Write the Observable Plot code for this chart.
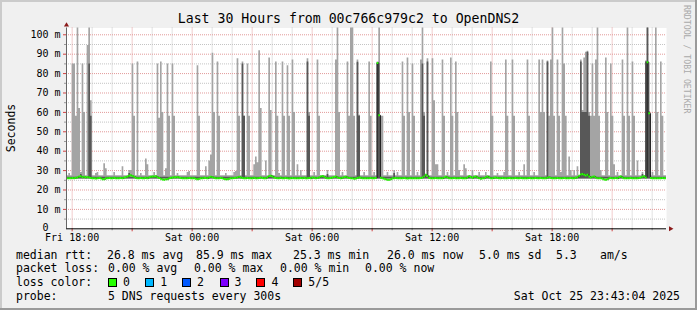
<!DOCTYPE html>
<html><head><meta charset="utf-8">
<script src="https://cdn.jsdelivr.net/npm/d3@7"></script>
<script src="https://cdn.jsdelivr.net/npm/@observablehq/plot@0.6"></script>
<style>
html,body{margin:0;padding:0;background:#f0f0f0;}
#wrap{position:relative;width:697px;height:310px;overflow:hidden;background:#f0f0f0;
  box-shadow: inset -2px -2px 0 #9a9a9a, inset 2px 2px 0 #cbcbcb;
  font-family:"DejaVu Sans Mono",monospace;color:#000;}
#wrap svg{position:absolute;left:0;top:0;}
.t{position:absolute;white-space:pre;line-height:14px;font-size:11.5px;}
.box{position:absolute;width:7px;height:7px;border:1px solid #000;}
</style></head>
<body><div id="wrap"></div>
<script>
// ---------------- data ----------------
const title = "Last 30 Hours from 00c766c979c2 to OpenDNS2";
const yUnit = "Seconds";
const watermark = "RRDTOOL / TOBI OETIKER";

// median RTT (ms), one value per 5-minute step starting Fri 17:45
const medianRtt = `
26.1 26.0 26.1 26.2 26.0 26.3 26.5 26.9 27.1 26.6 26.8 26.4 26.7 26.5 26.2 26.0 26.1 25.9 26.1 26.2 26.0 25.6 25.5 26.0 26.1 26.2 26.0 26.1 26.3 26.0
26.0 26.1 26.2 26.1 26.4 26.6 27.0 27.4 27.6 27.2 26.8 26.3 26.1 26.0 26.2 26.1 26.0 26.3 26.1 26.5 26.8 27.0 26.9 27.1 26.6 26.2 25.8 25.4 25.3 25.5
25.6 26.0 26.2 26.4 26.6 26.5 26.7 26.4 26.2 26.1 26.0 26.1 26.0 26.2 26.1 26.0 26.1 25.8 25.6 25.8 26.0 26.1 26.3 26.2 26.0 26.4 26.8 26.6 26.3 26.1
26.0 26.1 26.2 26.0 25.7 25.5 25.6 25.8 26.0 26.1 26.2 26.3 26.5 26.8 26.4 26.2 26.1 26.0 26.2 26.1 26.0 26.1 26.3 26.0 26.1 26.2 26.4 26.2 26.0 26.1
26.6 27.2 27.4 27.0 26.5 26.2 26.0 26.1 26.3 26.1 26.0 26.2 26.1 25.9 26.0 26.2 26.1 26.0 26.1 26.0 26.2 26.1 26.3 26.0 26.1 26.2 26.0 26.4 26.3 26.1
26.2 26.5 27.0 27.2 26.8 26.3 26.1 26.0 26.2 26.4 26.7 26.9 26.5 26.2 26.0 26.3 26.6 26.8 26.5 26.2 26.0 26.1 25.8 25.9 26.2 26.5 26.3 26.0 26.1 26.0
26.0 26.1 26.2 26.0 26.1 26.2 85.5 58.5 26.3 26.0 25.8 25.5 25.3 25.3 25.6 26.0 26.1 26.2 26.0 26.1 26.0 26.1 26.2 26.0 25.9 26.0 26.1 26.0 26.1 26.0
26.0 26.1 26.2 26.4 27.0 27.8 27.2 26.2 26.0 26.1 26.0 26.2 26.1 26.0 26.1 26.0 26.4 26.8 26.5 26.1 26.0 26.1 26.2 26.0 26.1 26.0 26.2 26.1 26.0 26.1
26.5 27.1 26.7 26.2 26.8 27.0 26.4 26.0 25.8 26.0 26.1 26.6 27.0 26.5 26.1 26.0 26.3 26.4 26.2 26.1 26.0 26.2 26.1 26.0 26.1 26.2 26.0 26.1 26.0 26.2
26.1 26.0 26.2 26.0 26.1 26.0 26.1 26.2 26.0 26.1 26.0 26.2 26.1 26.0 26.2 26.1 26.0 26.1 26.3 26.6 26.2 26.0 26.1 26.0 26.2 26.1 26.0 26.1 26.2 26.0
26.1 26.0 26.2 26.0 26.1 26.3 26.6 27.3 28.0 28.3 27.8 27.5 27.9 27.0 26.5 26.8 27.0 26.4 26.1 26.0 26.1 25.8 25.4 25.3 25.6 26.0 26.2 26.1 26.0 26.2
26.0 26.6 27.0 26.5 26.1 26.0 26.1 26.0 26.2 26.1 26.0 26.1 26.0 26.2 26.5 26.8 27.1 26.5 85.9 59.5 26.2 26.0 26.1 26.0 26.1 26.0 26.1 26.2 26.0 26.0
`.trim().split(/\s+/).map(Number);

// typical smoke extent around the median (ms)
const typicalLow = 25.4;       // lowest ping
const typicalInnerLow = 25.8;  // 2nd ping
const typicalInnerHigh = 26.6; // 4th ping
const typicalHigh = 27.4;      // highest ping

// [step, highest ping, 4th ping (optional)]
const spikes = [
[3,85],[4,85],[5,58],[6,104],[7,62],[9,85],[10,60],[12,94.5],[13,104,85],[14,66,58],
[39,85],[40,58],[42,86],[54,85],[55,57],[56,86],[57,60],[60,85],[61,58],[63,85],[64,58],
[78,84],[79,58],[87,90.5],[88,60],[90,86],[91,58],[102,87.6],[103,58],[105,86,85],[106,58,58],[108,85],[109,58],
[115,91.8],[116,62],[121,88],[122,61],[125,86],[126,58],[129,86],[130,58],[132,84],[133,58],[135,87],[136,60],
[144,87.6,86],[145,60,58],[150,87],[151,58],[161,87],[162,104],[163,60],[168,86],[169,58],[170,104],[171,104],[172,58],
[174,87,85.8],[175,58.5,58],[181,86],[182,58],[186,86,85.5],[187,104,58.5],[188,58],[189,58],
[201,86],[202,58],[204,88],[205,60],[207,85],[208,58],[212,87],[213,104,85],[214,60,58],[216,87.6,86],
[219,87.6],[220,66],[225,87],[226,58],[230,88],[231,58],[233,86],[234,60],
[254,86],[255,58],[263,87],[264,58],[267,87],[268,58],[276,87],[277,58],[283,87],[284,60],[285,87],[286,60],
[288,86.5,86],[289,58],[290,87],[291,104],[292,58],[294,87],[295,58],[297,104],[298,85],[299,58],
[308,87,86],[309,61,60],[310,88,60],[311,91,60],[312,91.5,91],[313,60,58],[314,58],[315,85],[316,58],[317,87],[318,104],[319,58],
[323,88],[324,60],[326,85],[327,58],[333,87],[334,58],[336,104],[337,58],[339,86],[340,58],
[347,86.5,86],[348,104,104],[349,60.5,60],[353,104],[354,60],[356,86],[357,58]
];
// small smoke bumps near the baseline: [step, highest ping, 4th ping (optional)]
const bumps = [
[1,28.5],[8,29,28],[17,28.5],[18,29],[22,33.5],[23,31],[28,29],[33,32],[37,30,28.5],[38,30],[44,28.5],[47,36],[48,33],
[52,29],[59,31],[66,28.5],[72,29],[73,29.5],[83,32],[85,35],[86,38],[95,28.5],[100,29],[101,29.5],
[112,33],[113,37],[114,34],[119,35],[127,28.5],[138,33],[140,30],[148,29],[156,30,28],[165,29],[178,29],
[184,29],[192,29],[196,30,28.5],[198,29],[210,29],[221,33],[222,33],[228,29],[235,30],[238,33],[239,31],
[243,30],[247,29],[251,29],[258,28.5],[262,29],[271,29],[274,33],[280,29],[296,29],[301,37],[302,30],
[304,30],[306,32],[320,30],[328,33],[330,29],[342,35],[345,29,28],[351,29]
];

// legend
const rttLabel = "median rtt:";
const rttStats = ["26.8 ms avg", "85.9 ms max", "25.3 ms min", "26.0 ms now", "5.0 ms sd", "5.3", "am/s"];
const lossLabel = "packet loss:";
const lossStats = ["0.00 % avg", "0.00 % max", "0.00 % min", "0.00 % now"];
const colorLabel = "loss color:";
const lossNames = ["0", "1", "2", "3", "4", "5/5"];
const lossColors = ["#26ff00", "#00b8ff", "#0059ff", "#7e00ff", "#ff0000", "#a10000"];
const probeLabel = "probe:";
const probeText = "5 DNS requests every 300s";
const stamp = "Sat Oct 25 23:43:04 2025";

// ---------------- layout ----------------
const W = 697, H = 245, YMAX = 103.5;
const start = new Date(Date.UTC(2025, 9, 24, 17, 43, 4));
const end = new Date(Date.UTC(2025, 9, 25, 23, 43, 4));
const firstStep = Date.UTC(2025, 9, 24, 17, 45, 0);
const STEP = 300e3;

const spikeMap = new Map(spikes.map(d => [d[0], d]));
const bumpMap = new Map(bumps.map(d => [d[0], d]));
const rows = medianRtt.map((m, i) => {
  const s = spikeMap.get(i) ?? bumpMap.get(i);
  return {
    t: new Date(i === 0 ? +start : firstStep + i * STEP),
    t2: new Date(firstStep + (i + 1) * STEP),
    median: m,
    lo: typicalLow, lo2: typicalInnerLow,
    hi: s ? s[1] : typicalHigh,
    hi2: s && s[2] != null ? s[2] : typicalInnerHigh
  };
});
const areaRows = rows.concat([{...rows[rows.length - 1], t: end}]);

const hours = d3.utcHour.range(d3.utcHour.ceil(start), end);
const major = hours.filter(d => d.getUTCHours() % 3 === 0);
const minor = hours.filter(d => d.getUTCHours() % 3 !== 0);
const labelled = hours.filter(d => d.getUTCHours() % 6 === 0);
const yMajor = d3.range(10, 101, 10);
const yMinor = d3.range(5, 100, 10);
const fmt = d3.utcFormat("%a %H:%M");

const minorGrid = "#c4c4c4", majorGrid = "#e29a9a", dash = "1,1";

const svg = Plot.plot({
  width: W, height: H,
  marginLeft: 66, marginRight: 31, marginTop: 27.5, marginBottom: 16.7,
  style: {fontFamily: "DejaVu Sans Mono", fontSize: "10px", background: "transparent", color: "#000"},
  x: {type: "utc", domain: [start, end]},
  y: {domain: [0, YMAX]},
  marks: [
    Plot.frame({fill: "#fff", stroke: null}),
    Plot.ruleY(yMinor, {stroke: minorGrid, strokeDasharray: dash}),
    Plot.ruleX(minor, {stroke: minorGrid, strokeDasharray: dash}),
    Plot.ruleY(yMajor, {stroke: majorGrid, strokeDasharray: dash}),
    Plot.ruleX(major, {stroke: majorGrid, strokeDasharray: dash}),
    Plot.areaY(areaRows, {x: "t", y1: "lo", y2: "hi", curve: "step-after", fill: "#a4a4a4", clip: true}),
    Plot.areaY(areaRows, {x: "t", y1: "lo2", y2: "hi2", curve: "step-after", fill: "#585858", clip: true}),
    Plot.line(areaRows, {x: "t", y: "median", curve: "step-after", stroke: "#202020", strokeWidth: 1, clip: true}),
    Plot.ruleY(rows, {y: "median", x1: "t", x2: "t2", stroke: lossColors[0], strokeWidth: 2, clip: true}),
    Plot.axisX(minor, {tickSize: 2, stroke: "#999", tickFormat: () => "", label: null}),
    Plot.axisX(major, {tickSize: 3, stroke: "#d04040", tickFormat: () => "", label: null}),
    Plot.axisY(yMinor, {tickSize: 2, stroke: "#999", tickFormat: () => "", label: null}),
    Plot.axisY(yMajor, {tickSize: 3, stroke: "#d04040", tickFormat: () => "", label: null}),
    Plot.ruleX([start], {y1: 0, y2: YMAX, stroke: "#666"}),
    Plot.ruleY([0], {x1: start, x2: end, stroke: "#000"}),
    Plot.dot([{x: start, y: YMAX}], {x: "x", y: "y", symbol: "triangle", r: 1.9, fill: "#8b1a1a", dy: -2.9}),
    Plot.dot([{x: end, y: 0}], {x: "x", y: "y", symbol: "triangle", r: 1.9, fill: "#8b1a1a", rotate: 90, dx: 4}),
    Plot.text(yMajor, {y: d => d, text: d => `${d} m`, frameAnchor: "left", textAnchor: "end", lineAnchor: "middle", dx: -6, fill: "#000"}),
    Plot.text([0], {y: d => d, text: () => "0", frameAnchor: "left", textAnchor: "end", lineAnchor: "middle", dx: -18, dy: -1, fill: "#000"}),
    Plot.text(labelled, {x: d => d, text: d => fmt(d), frameAnchor: "bottom", lineAnchor: "middle", dy: 9, fill: "#000"})
  ]
});
const wrap = document.getElementById("wrap");
wrap.appendChild(svg);

function addText(str, x, cy, extra = {}) {
  const el = document.createElement("div");
  el.className = "t";
  el.textContent = str;
  el.style.left = x + "px";
  el.style.top = (cy - 7) + "px";
  Object.assign(el.style, extra);
  wrap.appendChild(el);
  return el;
}
// title
addText(title, 0, 19, {width: W + "px", textAlign: "center", fontSize: "13.2px", lineHeight: "16px", top: "11px"});
// y unit
addText(yUnit, 11, 128, {transform: "translate(-50%,-50%) rotate(-90deg)", top: "128px", lineHeight: "12px"});
// watermark
addText(watermark, 682, 0, {writingMode: "vertical-rl", fontSize: "8.2px", lineHeight: "10px", top: "5px", color: "#aaaaaa"});

const rowY = [254.7, 268.3, 282.3, 296];
const labelX = 16;
const rttX = [107, 196, 293, 387, 479, 556, 600];
const lossX = [108, 194, 280, 365];
const boxX = [108, 145.3, 182, 219.5, 256.4, 293.3];
const nameDx = 15;

addText(rttLabel, labelX, rowY[0]);
rttStats.forEach((s, i) => addText(s, rttX[i], rowY[0]));
addText(lossLabel, labelX, rowY[1]);
lossStats.forEach((s, i) => addText(s, lossX[i], rowY[1]));
addText(colorLabel, labelX, rowY[2]);
lossNames.forEach((s, i) => {
  const b = document.createElement("div");
  b.className = "box";
  b.style.left = boxX[i] + "px";
  b.style.top = (rowY[2] - 4.5) + "px";
  b.style.background = lossColors[i];
  wrap.appendChild(b);
  addText(s, boxX[i] + nameDx, rowY[2]);
});
addText(probeLabel, labelX, rowY[3]);
addText(probeText, 108, rowY[3]);
addText(stamp, 0, rowY[3], {left: "auto", right: "17px"});
</script></body></html>
